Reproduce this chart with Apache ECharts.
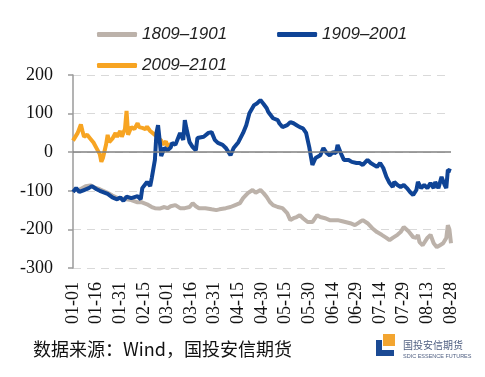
<!DOCTYPE html>
<html>
<head>
<meta charset="utf-8">
<script src="https://cdn.jsdelivr.net/npm/echarts@6/dist/echarts.min.js"></script>
<style>
html,body{margin:0;padding:0;background:#fff;}
#main{width:485px;height:377px;}
</style>
</head>
<body>
<div id="main"></div>
<script>
// Category axis: daily dates 01-01 .. 08-28 (leap-year calendar)
var monthDays = [31, 29, 31, 30, 31, 30, 31, 28];
var categories = [];
for (var m = 0; m < monthDays.length; m++) {
  for (var d = 1; d <= monthDays[m]; d++) {
    categories.push((m + 1 < 10 ? '0' : '') + (m + 1) + '-' + (d < 10 ? '0' : '') + d);
  }
}
var yTicks = [-300, -200, -100, 0, 100, 200];
var seriesNames = ['1809–1901', '1909–2001', '2009–2101'];

// [day index, value]
var s1809 = [[0,-98],[4,-97],[8,-88],[11,-86],[14,-92],[17,-96],[22,-105],[25,-112],[28,-118],[31,-120],[34,-122],[37,-124],[41,-130],[43,-129],[47,-135],[50,-142],[52,-145],[55,-146],[58,-142],[60,-145],[62,-140],[65,-137],[68,-145],[71,-145],[74,-142],[76,-132],[78,-140],[80,-145],[84,-145],[88,-148],[91,-150],[93,-148],[97,-145],[100,-142],[103,-137],[106,-132],[108,-119],[111,-106],[114,-98],[116,-105],[117,-106],[119,-98],[121,-106],[123,-116],[125,-129],[127,-137],[130,-142],[133,-145],[136,-158],[138,-176],[140,-171],[142,-168],[144,-163],[146,-171],[149,-181],[150,-184],[152,-181],[155,-163],[157,-168],[160,-171],[163,-176],[168,-176],[171,-179],[176,-184],[179,-189],[182,-181],[184,-176],[187,-184],[190,-197],[193,-207],[196,-214],[199,-222],[201,-228],[203,-222],[206,-214],[208,-207],[210,-194],[211,-194],[213,-205],[214,-202],[216,-220],[218,-222],[219,-214],[220,-233],[222,-241],[225,-222],[227,-214],[229,-236],[231,-246],[233,-241],[235,-236],[237,-222],[238,-189],[239,-200],[240,-236]];
var s1909 = [[0,-103],[2,-93],[4,-103],[7,-98],[10,-93],[12,-88],[15,-96],[17,-100],[22,-108],[25,-117],[28,-122],[30,-117],[32,-126],[34,-115],[37,-119],[41,-114],[43,-122],[44,-93],[47,-77],[49,-88],[50,-67],[52,-20],[53,50],[54,70],[55,32],[56,-10],[57,-8],[58,11],[60,5],[62,12],[63,24],[65,19],[68,50],[70,32],[71,83],[72,62],[74,26],[76,13],[78,5],[79,37],[83,40],[86,50],[88,52],[90,32],[92,24],[95,19],[97,11],[100,-8],[102,11],[105,26],[108,50],[110,70],[112,101],[115,122],[117,127],[119,135],[121,125],[123,114],[124,104],[127,88],[130,83],[131,75],[133,65],[136,70],[138,78],[140,75],[142,70],[144,65],[146,62],[148,50],[150,13],[152,-33],[154,-15],[157,-8],[159,11],[161,-2],[163,-8],[165,0],[167,-2],[168,19],[170,-2],[172,-20],[175,-20],[177,-25],[178,-25],[180,-28],[182,-28],[184,-33],[187,-20],[189,-28],[190,-33],[193,-38],[195,-28],[197,-41],[199,-64],[201,-80],[203,-90],[204,-77],[206,-85],[208,-90],[210,-85],[212,-93],[214,-103],[216,-111],[218,-98],[219,-77],[221,-93],[223,-85],[225,-93],[227,-80],[229,-93],[230,-77],[232,-93],[234,-64],[236,-85],[237,-93],[238,-46],[240,-49]];
var s2009 = [[0,30],[1,25],[3,50],[5,72],[6,55],[7,40],[9,45],[11,35],[13,25],[15,10],[17,-5],[18,-25],[19,-15],[21,20],[22,45],[23,26],[25,35],[27,50],[28,40],[30,55],[31,40],[33,60],[34,107],[35,45],[37,65],[39,60],[41,75],[42,65],[44,63],[46,60],[47,66],[49,55],[50,50],[52,45],[54,37],[56,30],[57,20],[59,28],[60,15],[62,22]];

var colors = { g: '#BCB2AA', b: '#0F4496', o: '#F7A422' };
var serifFont = 'Liberation Serif';
var serifRich = { s: { fontFamily: serifFont, fontSize: 18, color: '#111' } };
var chart = echarts.init(document.getElementById('main'), null, { renderer: 'canvas' });
var legendText = { fontFamily: 'Liberation Sans', fontStyle: 'italic', fontSize: 17, color: '#222' };
chart.setOption({
  animation: false,
  backgroundColor: '#fff',
  textStyle: { fontFamily: serifFont },
  grid: { left: 73, right: 34, top: 75, bottom: 109 },
  legend: [
    { data: [seriesNames[0], seriesNames[1]], left: 92, top: 21, itemWidth: 40, itemHeight: 5, itemGap: 50, icon: 'roundRect', textStyle: legendText },
    { data: [seriesNames[2]], left: 92, top: 52, itemWidth: 40, itemHeight: 5, icon: 'roundRect', textStyle: legendText }
  ],
  xAxis: {
    type: 'category', data: categories, boundaryGap: false,
    axisLine: { show: false }, axisTick: { show: false }, splitLine: { show: false },
    axisLabel: { interval: 14, rotate: 90, margin: 14, fontFamily: serifFont, fontSize: 18, color: '#111',
      formatter: function (v) { return '{s|' + v + '}'; }, rich: serifRich }
  },
  yAxis: {
    type: 'value', min: yTicks[0], max: yTicks[yTicks.length - 1], interval: 100,
    axisLine: { show: true, lineStyle: { color: '#9a9a9a', width: 1.5 } },
    axisTick: { show: true, length: 5, lineStyle: { color: '#9a9a9a', width: 1.5 } },
    axisLabel: { margin: 20, fontFamily: serifFont, fontSize: 18, color: '#111',
      formatter: function (v) { return '{s|' + v + '}'; }, rich: serifRich },
    splitLine: { show: true, lineStyle: { color: '#d9d9d9', type: [8, 6], width: 1 } }
  },
  series: [
    { name: seriesNames[0], type: 'line', data: s1809, showSymbol: false, color: colors.g, lineStyle: { width: 4, color: colors.g },
      markLine: { silent: true, symbol: ['none', 'none'], label: { show: false }, lineStyle: { color: '#808080', type: 'solid', width: 1.5 }, data: [{ yAxis: 0 }] } },
    { name: seriesNames[2], type: 'line', data: s2009, showSymbol: false, color: colors.o, lineStyle: { width: 4, color: colors.o } },
    { name: seriesNames[1], type: 'line', data: s1909, showSymbol: false, color: colors.b, lineStyle: { width: 4, color: colors.b } }
  ],
  graphic: [
    { type: 'text', left: 33, top: 340, style: { text: '数据来源：Wind，国投安信期货', font: '18px "Noto Sans CJK SC"', fill: '#111' } },
    { type: 'rect', shape: { x: 383, y: 334, width: 12, height: 12 }, style: { fill: '#F3A530' } },
    { type: 'rect', shape: { x: 376, y: 340, width: 6, height: 16 }, style: { fill: '#1B4A94' } },
    { type: 'rect', shape: { x: 376, y: 350, width: 18, height: 6 }, style: { fill: '#1B4A94' } },
    { type: 'text', left: 403, top: 340, style: { text: '国投安信期货', font: '10px "Noto Sans CJK SC"', fill: '#4E5E80' } },
    { type: 'text', left: 403, top: 353, style: { text: 'SDIC ESSENCE FUTURES', font: '5.5px "Liberation Sans"', fill: '#4E5E80' } }
  ]
});
</script>
</body>
</html>
